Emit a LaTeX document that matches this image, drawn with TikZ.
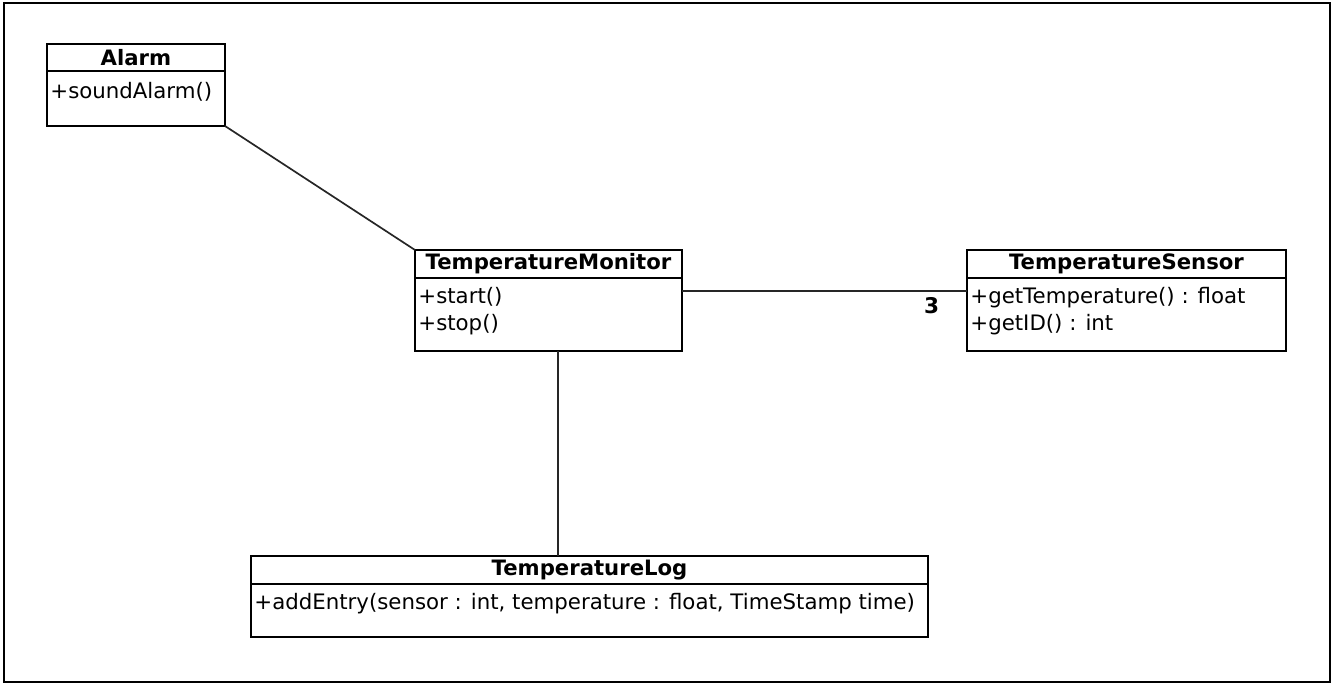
\documentclass[tikz,border=0pt]{standalone}
\usepackage{fontspec}
\setmainfont{DejaVu Sans}
\usepackage{tikz}
\usetikzlibrary{positioning}
\tikzset{
  clstitle/.style={rectangle, draw=black, line width=1.15pt, fill=white, outer sep=0pt, inner sep=0pt,
              minimum height=14pt, font=\fontsize{10.6}{13.5}\selectfont\bfseries},
  clsbody/.style={rectangle, draw=black, line width=1.15pt, fill=white, outer sep=0pt, inner sep=0pt},
  ops/.style={anchor=north west, align=left, inner sep=1.5pt, font=\fontsize{10.65}{13.5}\selectfont},
  assoc/.style={line width=0.85pt, draw=black!85},
  mult/.style={font=\fontsize{10.8}{12}\selectfont\bfseries, inner sep=1pt},
}
\begin{document}
\begin{tikzpicture}
  \useasboundingbox (0pt,0pt) rectangle (668pt,-342pt);
  \draw[line width=0.8pt] (2pt,-1.5pt) rectangle (665pt,-341pt);

  \node[clstitle, minimum width=133.5pt] (mon) at (274.25pt,-132pt) {TemperatureMonitor};
  \node[clsbody, minimum width=133.5pt, minimum height=36.5pt, below=0pt of mon] (monb) {};
  \node[ops] (monops) at ([yshift=-3pt]monb.north west) {+start()\\+stop()};

  \node[clstitle, minimum width=159.5pt, right=142.5pt of mon] (sens) {TemperatureSensor};
  \node[clsbody, minimum width=159.5pt, minimum height=36.5pt, below=0pt of sens] (sensb) {};
  \node[ops] (sensops) at ([yshift=-3pt]sensb.north west) {+getTemperature() : float\\+getID() : int};

  \node[clstitle, minimum width=338.5pt, below=102.5pt of monb, xshift=20.5pt] (log) {TemperatureLog};
  \node[clsbody, minimum width=338.5pt, minimum height=26.5pt, below=0pt of log] (logb) {};
  \node[ops] (logops) at ([yshift=-3pt]logb.north west) {+addEntry(sensor : int, temperature : float, TimeStamp time)};

  \node[clstitle, minimum width=89pt, minimum height=13.5pt] (alarm) at (68pt,-28.75pt) {Alarm};
  \node[clsbody, minimum width=89pt, minimum height=27.5pt, below=0pt of alarm] (alarmb) {};
  \node[ops] (alarmops) at ([yshift=-4pt]alarmb.north west) {+soundAlarm()};

  \draw[assoc] (alarmb.south east) -- (mon.north west);
  \draw[assoc] ([yshift=-6.5pt]monb.north east) -- ([yshift=-6.5pt]sensb.north west)
    node[mult, below left=1.7pt and 12.5pt] (three) {3};
  \draw[assoc] ([xshift=4.75pt]monb.south) -- ([xshift=4.75pt]monb.south |- log.north);
\end{tikzpicture}
\end{document}
